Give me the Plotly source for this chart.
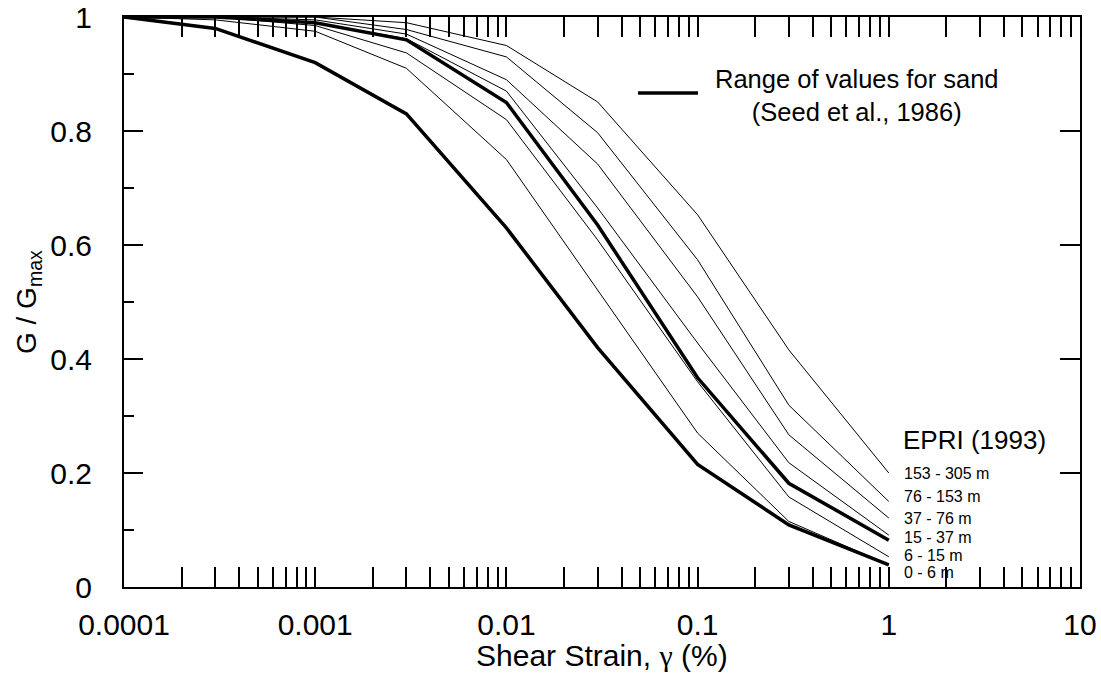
import plotly.graph_objects as go

# Shear strain (%) at which curves are defined
strain = [0.0001, 0.0003, 0.001, 0.003, 0.01, 0.03, 0.1, 0.3, 1.0]

# Seed et al. (1986) range for sand
seed_upper = [1.0, 1.0, 0.99, 0.96, 0.85, 0.635, 0.367, 0.182, 0.082]
seed_lower = [1.0, 0.98, 0.92, 0.83, 0.63, 0.42, 0.215, 0.109, 0.039]

# EPRI (1993) curves by depth
epri_0_6 = [1.0, 0.995, 0.975, 0.91, 0.75, 0.52, 0.27, 0.115, 0.039]
epri_6_15 = [1.0, 1.0, 0.985, 0.937, 0.82, 0.609, 0.36, 0.158, 0.053]
epri_15_37 = [1.0, 1.0, 0.99, 0.962, 0.87, 0.665, 0.428, 0.218, 0.091]
epri_37_76 = [1.0, 1.0, 0.995, 0.97, 0.89, 0.742, 0.509, 0.267, 0.121]
epri_76_153 = [1.0, 1.0, 1.0, 0.978, 0.93, 0.797, 0.574, 0.319, 0.15]
epri_153_305 = [1.0, 1.0, 1.0, 0.99, 0.95, 0.851, 0.653, 0.416, 0.2]

epri_curves = [epri_0_6, epri_6_15, epri_15_37, epri_37_76, epri_76_153, epri_153_305]
depth_labels = ["0 - 6 m", "6 - 15 m", "15 - 37 m", "37 - 76 m", "76 - 153 m", "153 - 305 m"]

x_tickvals = [0.0001, 0.001, 0.01, 0.1, 1, 10]
x_ticktext = ["0.0001", "0.001", "0.01", "0.1", "1", "10"]
x_minor = [m * 10.0 ** e for e in range(-4, 1) for m in range(2, 10)]
y_tickvals = [0, 0.2, 0.4, 0.6, 0.8, 1.0]
y_ticktext = ["0", "0.2", "0.4", "0.6", "0.8", "1"]
y_minor = [0.1, 0.3, 0.5, 0.7, 0.9]

FONT = "Liberation Sans, Arial, sans-serif"

fig = go.Figure()
for curve in epri_curves:
    fig.add_trace(go.Scatter(x=strain, y=curve, mode="lines",
                             line=dict(color="black", width=1), showlegend=False,
                             hoverinfo="skip"))
for curve in [seed_upper, seed_lower]:
    fig.add_trace(go.Scatter(x=strain, y=curve, mode="lines",
                             line=dict(color="black", width=3.5), showlegend=False,
                             hoverinfo="skip"))
# helper trace so the right-hand axis is drawn
fig.add_trace(go.Scatter(x=[None], y=[None], yaxis="y2", showlegend=False, hoverinfo="skip"))

annotations = []
# legend-like text
annotations.append(dict(xref="paper", yref="paper", x=0.7667, y=0.863,
                        text="Range of values for sand<br>(Seed et al., 1986)",
                        showarrow=False, align="center", xanchor="center", yanchor="middle",
                        font=dict(family=FONT, size=25.5, color="black")))
annotations.append(dict(xref="paper", yref="paper", x=0.8125, y=0.258,
                        text="EPRI (1993)", showarrow=False, xanchor="left", yanchor="middle",
                        font=dict(family=FONT, size=26, color="black")))
label_y = [0.0246, 0.0561, 0.0877, 0.121, 0.158, 0.2]
for lab, yy in zip(depth_labels, label_y):
    annotations.append(dict(xref="paper", yref="paper", x=0.8135, y=yy, text=lab,
                            showarrow=False, xanchor="left", yanchor="middle",
                            font=dict(family=FONT, size=16, color="black")))
# axis titles
annotations.append(dict(xref="paper", yref="paper", x=0.5, y=-0.121,
                        text="Shear Strain, <span style='font-family:Liberation Serif'>γ</span> (%)",
                        showarrow=False, xanchor="center", yanchor="middle",
                        font=dict(family=FONT, size=30, color="black")))
annotations.append(dict(xref="paper", yref="paper", x=-0.1004, y=0.5,
                        text="G / G<sub>max</sub>", textangle=-90,
                        showarrow=False, xanchor="center", yanchor="middle",
                        font=dict(family=FONT, size=28, color="black")))

shapes = [dict(type="line", xref="paper", yref="paper", x0=0.5377, x1=0.6004,
               y0=0.8667, y1=0.8667, line=dict(color="black", width=3.5))]

fig.update_layout(
    width=1101, height=686,
    margin=dict(l=124, r=21, t=17, b=99, autoexpand=False),
    paper_bgcolor="white", plot_bgcolor="white",
    font=dict(family=FONT, size=30, color="black"),
    annotations=annotations, shapes=shapes,
    xaxis=dict(type="log", range=[-4, 1], tickmode="array", tickvals=x_tickvals,
               ticktext=x_ticktext, ticks="inside", ticklen=20, tickwidth=1.5,
               tickcolor="black", showline=True, linewidth=2, linecolor="black",
               mirror="allticks", showgrid=False, zeroline=False, automargin=False,
               ticklabelstandoff=10,
               tickfont=dict(family=FONT, size=30, color="black"),
               minor=dict(tickvals=x_minor, ticks="inside", ticklen=10,
                          tickwidth=1.5, tickcolor="black", showgrid=False)),
    yaxis=dict(range=[0, 1], tickmode="array", tickvals=y_tickvals, ticktext=y_ticktext,
               ticks="inside", ticklen=19, tickwidth=1.5, tickcolor="black",
               showline=True, linewidth=2, linecolor="black", mirror=True,
               showgrid=False, zeroline=False, automargin=False, ticklabelstandoff=24,
               tickfont=dict(family=FONT, size=30, color="black"),
               minor=dict(tickvals=y_minor, ticks="inside", ticklen=10,
                          tickwidth=1.5, tickcolor="black", showgrid=False)),
    yaxis2=dict(overlaying="y", side="right", range=[0, 1], tickmode="array",
                tickvals=y_tickvals, ticks="inside", ticklen=20, tickwidth=1.5,
                tickcolor="black", showticklabels=False, showline=False,
                showgrid=False, zeroline=False, automargin=False),
)

fig.write_html("out.html")
